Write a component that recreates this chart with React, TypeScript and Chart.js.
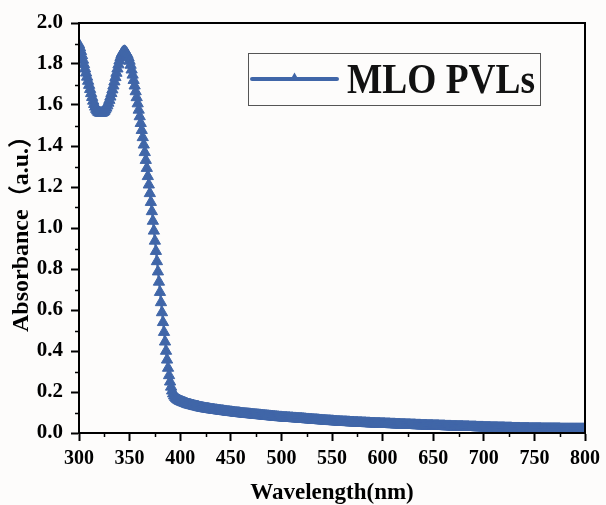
import React, { useEffect, useRef } from 'react';
import { Chart, registerables } from 'chart.js';

Chart.register(...registerables);

// Sampling grid: one reading per nanometre, 300–800 nm
const wavelengths: number[] = Array.from({ length: 501 }, (_, i) => 300 + i);

// 300–345 nm : start, dip and first peak
const absDip = [
  1.895, 1.880, 1.862, 1.842, 1.820, 1.798, 1.777, 1.757, 1.737, 1.717,
  1.697, 1.677, 1.657, 1.638, 1.620, 1.604, 1.591, 1.580, 1.572, 1.566,
  1.563, 1.561, 1.561, 1.562, 1.565, 1.570, 1.577, 1.586, 1.597, 1.610,
  1.624, 1.640, 1.657, 1.675, 1.694, 1.714, 1.735, 1.756, 1.777, 1.797,
  1.816, 1.833, 1.847, 1.856, 1.861, 1.862,
];

// 346–400 nm : absorption edge
const absEdge = [
  1.859, 1.853, 1.844, 1.831, 1.815, 1.795, 1.772, 1.747, 1.721, 1.694,
  1.666, 1.637, 1.607, 1.576, 1.544, 1.511, 1.477, 1.442, 1.406, 1.369,
  1.331, 1.292, 1.252, 1.211, 1.169, 1.126, 1.081, 1.034, 0.986, 0.937,
  0.887, 0.837, 0.787, 0.737, 0.687, 0.637, 0.588, 0.540, 0.492, 0.445,
  0.400, 0.357, 0.317, 0.281, 0.250, 0.225, 0.206, 0.192, 0.182, 0.175,
  0.169, 0.165, 0.161, 0.158, 0.155,
];

// 401–800 nm : tail
const absTail = [
  0.153, 0.151, 0.149, 0.147, 0.145, 0.143, 0.141, 0.139, 0.138, 0.137,
  0.135, 0.134, 0.133, 0.131, 0.130, 0.129, 0.128, 0.127, 0.125, 0.124,
  0.123, 0.122, 0.121, 0.120, 0.119, 0.118, 0.118, 0.117, 0.116, 0.115,
  0.114, 0.114, 0.113, 0.112, 0.111, 0.111, 0.110, 0.109, 0.109, 0.108,
  0.107, 0.107, 0.106, 0.105, 0.105, 0.104, 0.103, 0.103, 0.102, 0.101,
  0.101, 0.100, 0.100, 0.099, 0.098, 0.098, 0.097, 0.097, 0.096, 0.095,
  0.095, 0.094, 0.094, 0.093, 0.093, 0.092, 0.092, 0.091, 0.091, 0.090,
  0.090, 0.089, 0.089, 0.088, 0.088, 0.087, 0.087, 0.086, 0.086, 0.085,
  0.085, 0.084, 0.084, 0.083, 0.083, 0.082, 0.082, 0.081, 0.081, 0.080,
  0.080, 0.079, 0.079, 0.078, 0.078, 0.077, 0.077, 0.076, 0.076, 0.076,
  0.075, 0.075, 0.074, 0.074, 0.074, 0.073, 0.073, 0.073, 0.072, 0.072,
  0.072, 0.071, 0.071, 0.071, 0.070, 0.070, 0.070, 0.069, 0.069, 0.069,
  0.068, 0.068, 0.067, 0.067, 0.066, 0.066, 0.066, 0.065, 0.065, 0.065,
  0.064, 0.064, 0.063, 0.063, 0.063, 0.062, 0.062, 0.061, 0.061, 0.061,
  0.060, 0.060, 0.060, 0.059, 0.059, 0.058, 0.058, 0.058, 0.057, 0.057,
  0.057, 0.056, 0.056, 0.056, 0.055, 0.055, 0.055, 0.054, 0.054, 0.054,
  0.053, 0.053, 0.053, 0.053, 0.052, 0.052, 0.052, 0.051, 0.051, 0.051,
  0.051, 0.050, 0.050, 0.050, 0.050, 0.049, 0.049, 0.049, 0.049, 0.048,
  0.048, 0.048, 0.048, 0.047, 0.047, 0.047, 0.047, 0.046, 0.046, 0.046,
  0.046, 0.046, 0.045, 0.045, 0.045, 0.045, 0.045, 0.044, 0.044, 0.044,
  0.044, 0.044, 0.043, 0.043, 0.043, 0.043, 0.043, 0.042, 0.042, 0.042,
  0.042, 0.042, 0.041, 0.041, 0.041, 0.041, 0.041, 0.040, 0.040, 0.040,
  0.040, 0.040, 0.039, 0.039, 0.039, 0.039, 0.039, 0.038, 0.038, 0.038,
  0.038, 0.038, 0.037, 0.037, 0.037, 0.037, 0.037, 0.036, 0.036, 0.036,
  0.036, 0.036, 0.036, 0.035, 0.035, 0.035, 0.035, 0.035, 0.035, 0.034,
  0.034, 0.034, 0.034, 0.034, 0.034, 0.033, 0.033, 0.033, 0.033, 0.033,
  0.033, 0.032, 0.032, 0.032, 0.032, 0.032, 0.032, 0.031, 0.031, 0.031,
  0.031, 0.031, 0.031, 0.030, 0.030, 0.030, 0.030, 0.030, 0.030, 0.029,
  0.029, 0.029, 0.029, 0.029, 0.029, 0.028, 0.028, 0.028, 0.028, 0.028,
  0.028, 0.028, 0.027, 0.027, 0.027, 0.027, 0.027, 0.027, 0.027, 0.026,
  0.026, 0.026, 0.026, 0.026, 0.026, 0.026, 0.025, 0.025, 0.025, 0.025,
  0.025, 0.025, 0.025, 0.024, 0.024, 0.024, 0.024, 0.024, 0.024, 0.024,
  0.023, 0.023, 0.023, 0.023, 0.023, 0.023, 0.023, 0.022, 0.022, 0.022,
  0.022, 0.022, 0.022, 0.022, 0.022, 0.021, 0.021, 0.021, 0.021, 0.021,
  0.021, 0.021, 0.021, 0.021, 0.020, 0.020, 0.020, 0.020, 0.020, 0.020,
  0.020, 0.020, 0.020, 0.020, 0.020, 0.020, 0.019, 0.019, 0.019, 0.019,
  0.019, 0.019, 0.019, 0.019, 0.019, 0.019, 0.019, 0.019, 0.019, 0.019,
  0.019, 0.019, 0.019, 0.019, 0.019, 0.018, 0.018, 0.018, 0.018, 0.018,
  0.018, 0.018, 0.018, 0.018, 0.018, 0.018, 0.018, 0.018, 0.018, 0.018,
  0.018, 0.018, 0.018, 0.018, 0.018, 0.018, 0.018, 0.018, 0.018, 0.018,
];

const absorbance = [...absDip, ...absEdge, ...absTail];

const seriesLabel = 'MLO PVLs';
const xTitle = 'Wavelength(nm)';
const yTitle = 'Absorbance（a.u.）';
const xMinorTicks = [325, 375, 425, 475, 525, 575, 625, 675, 725, 775];
const yMinorTicks = [0.1, 0.3, 0.5, 0.7, 0.9, 1.1, 1.3, 1.5, 1.7, 1.9];

const BLUE = '#4066a8';
const SERIF = '"Liberation Serif", "Times New Roman", "Noto Sans CJK SC", serif';

const framePlugin = {
  id: 'frame',
  beforeDraw(chart: any) {
    const { ctx, width, height } = chart;
    ctx.save();
    ctx.fillStyle = '#fdfcfb';
    ctx.fillRect(0, 0, width, height);
    ctx.restore();
  },
  afterDatasetsDraw(chart: any) {
    const { ctx, chartArea: a, scales } = chart;
    ctx.save();
    ctx.strokeStyle = '#000';
    ctx.lineWidth = 2;
    ctx.strokeRect(a.left, a.top, a.right - a.left, a.bottom - a.top);
    // minor ticks
    ctx.lineWidth = 1.5;
    ctx.beginPath();
    xMinorTicks.forEach((v) => {
      const x = Math.round(scales.x.getPixelForValue(v)) + 0.5;
      ctx.moveTo(x, a.bottom);
      ctx.lineTo(x, a.bottom + 4);
    });
    yMinorTicks.forEach((v) => {
      const y = Math.round(scales.y.getPixelForValue(v)) + 0.5;
      ctx.moveTo(a.left, y);
      ctx.lineTo(a.left - 4, y);
    });
    ctx.stroke();
    ctx.restore();
  },
  afterDraw(chart: any) {
    const { ctx, chartArea: a } = chart;
    const bx = a.left + 169;
    const by = a.top + 30;
    const bw = 292;
    const bh = 52;
    ctx.save();
    ctx.strokeStyle = '#555';
    ctx.lineWidth = 1;
    ctx.strokeRect(bx + 0.5, by + 0.5, bw, bh);
    const ly = by + 26;
    ctx.strokeStyle = BLUE;
    ctx.lineWidth = 4;
    ctx.lineCap = 'round';
    ctx.beginPath();
    ctx.moveTo(bx + 4, ly);
    ctx.lineTo(bx + 89, ly);
    ctx.stroke();
    const cx = bx + 46.5;
    const cy = ly - 1;
    const r = 5.5;
    ctx.fillStyle = BLUE;
    ctx.beginPath();
    ctx.moveTo(cx, cy - r);
    ctx.lineTo(cx + r * 0.866, cy + r / 2);
    ctx.lineTo(cx - r * 0.866, cy + r / 2);
    ctx.closePath();
    ctx.fill();
    ctx.fillStyle = '#111';
    ctx.font = 'bold 42px ' + SERIF;
    ctx.textBaseline = 'alphabetic';
    ctx.textAlign = 'left';
    ctx.fillText(seriesLabel, bx + 99, by + 40, 188);
    ctx.restore();
  },
};

export default function App() {
  const canvasRef = useRef<HTMLCanvasElement | null>(null);

  useEffect(() => {
    if (!canvasRef.current) return;
    const chart = new Chart(canvasRef.current, {
      type: 'line',
      data: {
        datasets: [
          {
            label: seriesLabel,
            data: wavelengths.map((w, i) => ({ x: w, y: absorbance[i] })),
            borderColor: BLUE,
            backgroundColor: BLUE,
            borderWidth: 2,
            pointStyle: 'triangle',
            pointRadius: 6.5,
            pointBorderWidth: 1,
            pointBackgroundColor: BLUE,
            pointBorderColor: BLUE,
            tension: 0,
            clip: 0,
          } as any,
        ],
      },
      options: {
        animation: false,
        responsive: false,
        devicePixelRatio: 1,
        layout: { padding: { left: 0, top: 23, right: 19, bottom: 0 } },
        plugins: {
          legend: { display: false },
          tooltip: { enabled: false },
        },
        scales: {
          x: {
            type: 'linear',
            min: 300,
            max: 800,
            afterFit: (s: any) => {
              s.height = 72;
            },
            ticks: {
              stepSize: 50,
              padding: 6,
              color: '#000',
              maxRotation: 0,
              font: { family: SERIF, size: 20, weight: 'bold' },
              callback: (v: any) => String(v),
            },
            grid: {
              display: true,
              drawOnChartArea: false,
              drawTicks: true,
              tickLength: 8,
              tickWidth: 2,
              tickColor: '#000',
            },
            border: { display: true, color: '#000', width: 2 },
            title: {
              display: true,
              text: xTitle,
              color: '#000',
              font: { family: SERIF, size: 23, weight: 'bold' },
              padding: { top: 0, bottom: -2 },
            },
          },
          y: {
            type: 'linear',
            min: 0,
            max: 2,
            afterFit: (s: any) => {
              s.width = 79;
            },
            ticks: {
              stepSize: 0.2,
              padding: 8,
              color: '#000',
              font: { family: SERIF, size: 21, weight: 'bold' },
              callback: (v: any) => Number(v).toFixed(1),
            },
            grid: {
              display: true,
              drawOnChartArea: false,
              drawTicks: true,
              tickLength: 8,
              tickWidth: 2,
              tickColor: '#000',
            },
            border: { display: true, color: '#000', width: 2 },
            title: {
              display: true,
              text: yTitle,
              color: '#000',
              font: { family: SERIF, size: 24, weight: 'bold' },
              padding: { top: 7, bottom: 0 },
            },
          },
        },
      },
      plugins: [framePlugin],
    });
    return () => chart.destroy();
  }, []);

  return (
    <div style={{ position: 'fixed', left: 0, top: 0, width: 606, height: 505 }}>
      <canvas ref={canvasRef} width={606} height={505} style={{ display: 'block', width: 606, height: 505 }} />
    </div>
  );
}
